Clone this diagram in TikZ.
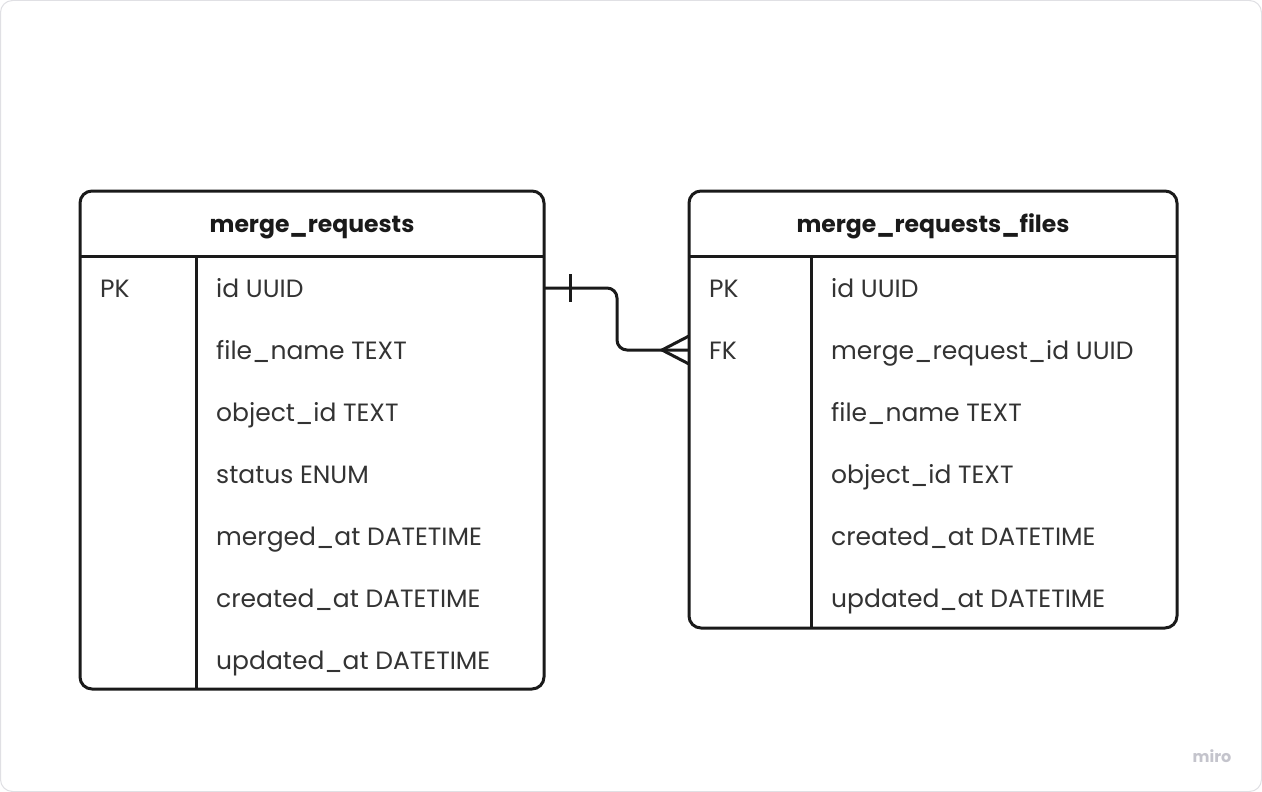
\documentclass[tikz,border=0pt]{standalone}
\usepackage{fontspec}
\setmainfont{Poppins}
\begin{document}
\begin{tikzpicture}[x=1pt,y=-1pt,
  tbl/.style={draw=linec, line width=3pt, rounded corners=12pt, fill=white},
  rule/.style={draw=linec, line width=3pt},
  title/.style={anchor=base, font=\fontsize{23.5}{28}\selectfont\bfseries, text=titlec, inner sep=0pt},
  cell/.style={anchor=base west, font=\fontsize{25}{30}\selectfont, text=textc, inner sep=0pt},
  conn/.style={draw=linec, line width=3pt, rounded corners=10pt}
]
\definecolor{linec}{HTML}{1A1A1A}
\definecolor{titlec}{HTML}{1A1A1A}
\definecolor{textc}{HTML}{333333}
\definecolor{framec}{HTML}{E0E0E4}
\definecolor{miroc}{HTML}{C4C4CC}
\useasboundingbox (0,0) rectangle (1262,792);
\draw[framec, line width=1pt, rounded corners=12pt, fill=white] (0.5,0.5) rectangle (1261.5,791.5);

% left table
\draw[tbl] (80,191) rectangle (544,689);
\draw[rule] (80,256) -- (544,256);
\draw[rule] (196,256) -- (196,689);
\node[title] (lt) at (312,232) {merge\_requests};
\node[cell] (lpk) at (100,297) {PK};
\node[cell] (l1) at (216,297) {id UUID};
\node[cell] (l2) at (216,359) {file\_name TEXT};
\node[cell] (l3) at (216,421) {object\_id TEXT};
\node[cell] (l4) at (216,483) {status ENUM};
\node[cell] (l5) at (216,545) {merged\_at DATETIME};
\node[cell] (l6) at (216,607) {created\_at DATETIME};
\node[cell] (l7) at (216,669) {updated\_at DATETIME};

% right table
\draw[tbl] (689,191) rectangle (1177,628);
\draw[rule] (689,256) -- (1177,256);
\draw[rule] (811,256) -- (811,628);
\node[title] (rt) at (933,232) {merge\_requests\_files};
\node[cell] (rpk) at (709,297) {PK};
\node[cell] (rfk) at (709,359) {FK};
\node[cell] (r1) at (831,297) {id UUID};
\node[cell] (r2) at (831,359) {merge\_request\_id UUID};
\node[cell] (r3) at (831,421) {file\_name TEXT};
\node[cell] (r4) at (831,483) {object\_id TEXT};
\node[cell] (r5) at (831,545) {created\_at DATETIME};
\node[cell] (r6) at (831,607) {updated\_at DATETIME};

% connector
\coordinate (ca) at (544,288);
\coordinate (cb) at (689,350);
\coordinate (cm1) at (617,288);
\coordinate (cm2) at (617,350);
\draw[conn] (ca) -- (cm1) -- (cm2) -- (cb);
\draw[rule] (570,274) -- (570,302);
\coordinate (cf) at (662,350);
\draw[rule, line join=miter] (689,336) -- (cf) -- (689,364);

\node[anchor=base, font=\fontsize{16}{18}\selectfont\bfseries, text=miroc, inner sep=0pt] (miro) at (1212,762) {miro};
\end{tikzpicture}
\end{document}
